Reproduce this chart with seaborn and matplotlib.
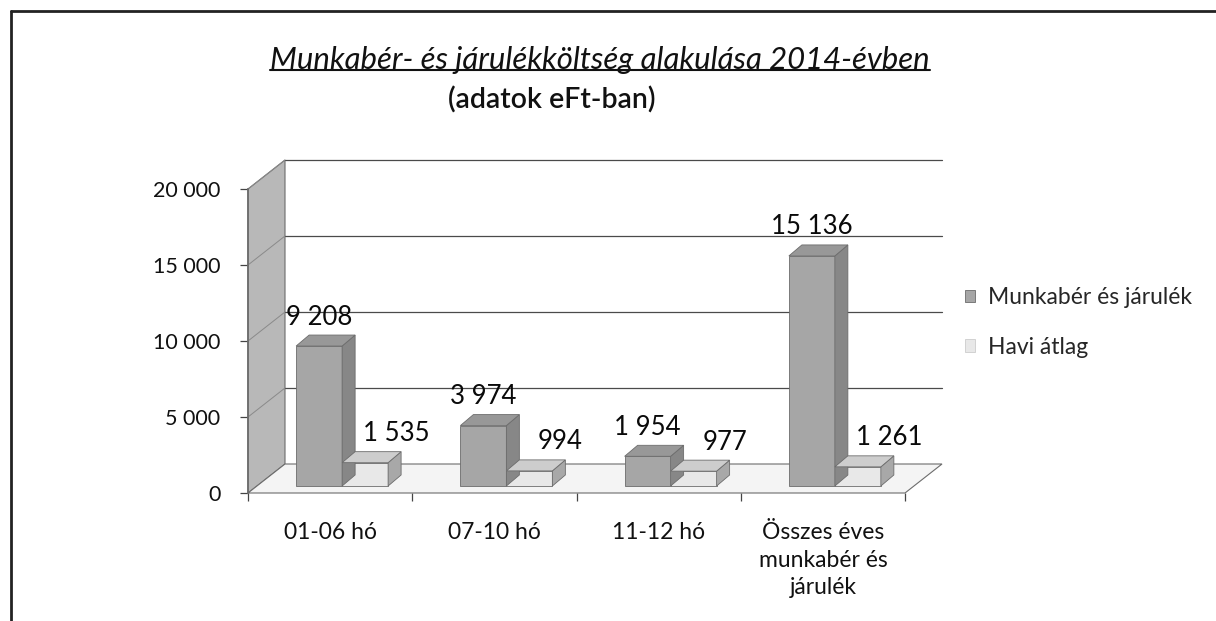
import pandas as pd
import matplotlib
matplotlib.use("Agg")
import matplotlib.pyplot as plt
import matplotlib.transforms as mtransforms
from matplotlib.patches import Polygon, Rectangle
from matplotlib.lines import Line2D
import seaborn as sns

# chart data
categories = ["01-06 hó", "07-10 hó", "11-12 hó", "Összes éves\nmunkabér és\njárulék"]
series_names = ["Munkabér és járulék", "Havi átlag"]
munkaber = [9208, 3974, 1954, 15136]
havi_atlag = [1535, 994, 977, 1261]
y_ticks = [0, 5000, 10000, 15000, 20000]
title = "Munkabér- és járulékköltség alakulása 2014-évben"
subtitle = "(adatok eFt-ban)"

df = pd.DataFrame({
    "Kategória": categories * 2,
    "Sorozat": [series_names[0]] * len(categories) + [series_names[1]] * len(categories),
    "Érték": munkaber + havi_atlag,
})

def fmt(v):
    # hungarian thousands separator is a space
    return f"{v:,}".replace(",", " ")

# colours of the grey 3D bars
dark_front, dark_side, dark_top = "#a6a6a6", "#878787", "#989898"
light_front, light_side, light_top = "#e8e8e8", "#a8a8a8", "#cdcdcd"
edge = "#6c6c6c"

sns.set_theme(style="white")
plt.rcParams["font.family"] = ["Lato", "DejaVu Sans"]

W, H = 1216, 621
fig = plt.figure(figsize=(W / 100, H / 100), dpi=100)
fig.patch.set_facecolor("white")
ax = fig.add_axes([248 / W, 1 - 493 / H, (905 - 248) / W, (493 - 189) / H])
ax.patch.set_visible(False)

sns.barplot(data=df, x="Kategória", y="Érték", hue="Sorozat",
            palette=[dark_front, light_front], width=0.56, saturation=1,
            edgecolor=edge, linewidth=0.6, legend=False, ax=ax, zorder=3)

ax.set_xlim(-0.5, len(categories) - 0.5)
ax.set_ylim(0, 20000)

# bars stand a little back on the 3D floor: lift them a few pixels
lift = mtransforms.ScaledTranslation(0, 7 / 100, fig.dpi_scale_trans)
bar_trans = ax.transData + lift
for bar in ax.patches:
    bar.set_x(bar.get_x() + 0.073)
    bar.set_transform(bar_trans)

# pixel offset of the back plane (3D look)
bdx, bdy = 37, 29
ident = mtransforms.IdentityTransform()

def px(x, y):
    return ax.transData.transform((x, y))

x0, x1 = ax.get_xlim()
# left wall
p0, p1 = px(x0, 0), px(x0, 20000)
wall = [p0, p1, (p1[0] + bdx, p1[1] + bdy), (p0[0] + bdx, p0[1] + bdy)]
ax.add_patch(Polygon(wall, closed=True, transform=ident, clip_on=False,
                     facecolor="#b8b8b8", edgecolor=edge, lw=0.8, zorder=0.5))
# floor
q0, q1 = px(x0, 0), px(x1, 0)
floor = [q0, q1, (q1[0] + bdx, q1[1] + bdy), (q0[0] + bdx, q0[1] + bdy)]
ax.add_patch(Polygon(floor, closed=True, transform=ident, clip_on=False,
                     facecolor="#f4f4f4", edgecolor=edge, lw=0.8, zorder=0.6))
# gridlines on the back wall and on the left wall
for v in y_ticks[1:]:
    a, b = px(x0, v), px(x1, v)
    ax.add_line(Line2D([a[0] + bdx, b[0] + bdx], [a[1] + bdy, b[1] + bdy],
                       transform=ident, color="#4a4a4a", lw=0.9, clip_on=False, zorder=0.7))
    ax.add_line(Line2D([a[0], a[0] + bdx], [a[1], a[1] + bdy],
                       transform=ident, color="#8a8a8a", lw=0.7, clip_on=False, zorder=0.7))

# sides and tops of the bars
for cont, (side_c, top_c) in zip(ax.containers, [(dark_side, dark_top), (light_side, light_top)]):
    for bar in cont:
        bx, bw, bh = bar.get_x(), bar.get_width(), bar.get_height()
        bl = bar_trans.transform((bx, bh))
        br = bar_trans.transform((bx + bw, bh))
        b0 = bar_trans.transform((bx + bw, 0))
        dx, dy = 13, 11
        side = [b0, br, (br[0] + dx, br[1] + dy), (b0[0] + dx, b0[1] + dy)]
        top = [bl, br, (br[0] + dx, br[1] + dy), (bl[0] + dx, bl[1] + dy)]
        ax.add_patch(Polygon(side, transform=ident, facecolor=side_c, edgecolor=edge,
                             lw=0.6, clip_on=False, zorder=3))
        ax.add_patch(Polygon(top, transform=ident, facecolor=top_c, edgecolor=edge,
                             lw=0.6, clip_on=False, zorder=3))

# value labels
for i, cont in enumerate(ax.containers):
    vals = munkaber if i == 0 else havi_atlag
    xoff = 0 if i == 0 else 31
    for bar, v in zip(cont, vals):
        ax.annotate(fmt(v), (bar.get_x() + bar.get_width() / 2, bar.get_height()),
                    xycoords=bar_trans, xytext=(xoff, 29), textcoords="offset pixels",
                    ha="center", va="center", fontsize=18.5, color="#0a0a0a", zorder=5,
                    annotation_clip=False)

# axes, ticks
for s in ["top", "right", "bottom"]:
    ax.spines[s].set_visible(False)
ax.spines["left"].set_color(edge)
ax.set_yticks(y_ticks)
ax.set_yticklabels([fmt(v) for v in y_ticks], fontsize=15.5, color="#111111")
ax.tick_params(axis="y", left=True, length=5.8, width=0.9, color="#444444", pad=14)
ax.set_xticks([i - 0.5 for i in range(len(categories) + 1)])
ax.set_xticklabels([""] * (len(categories) + 1))
ax.set_xticks(range(len(categories)), minor=True)
ax.set_xticklabels(categories, minor=True, fontsize=16.5, linespacing=1.38,
                   va="top", color="#111111")
ax.tick_params(axis="x", which="major", bottom=True, length=6, width=0.9, color="#444444")
ax.tick_params(axis="x", which="minor", bottom=False, length=0, pad=21)
ax.set_xlabel("")
ax.set_ylabel("")

# legend
handles = [Rectangle((0, 0), 1, 1, facecolor=dark_front, edgecolor=edge, lw=0.6),
           Rectangle((0, 0), 1, 1, facecolor=light_front, edgecolor="#cccccc", lw=0.6)]
fig.legend(handles, series_names, loc="upper left", bbox_to_anchor=(965 / W, 1 - 287 / H),
           frameon=False, fontsize=16.5, handlelength=0.45, handleheight=0.45,
           handletextpad=0.55, labelspacing=1.25, borderpad=0, borderaxespad=0)

# title and subtitle
t = fig.text(600 / W, 1 - 60 / H, title, ha="center", va="center", fontsize=22.4,
             style="italic", color="#111111")
fig.text(552 / W, 1 - 100 / H, subtitle, ha="center", va="center", fontsize=20.5,
         weight="semibold", color="#111111")

# frame of the scanned page (only top and left visible)
fig.add_artist(Line2D([11 / W, 11 / W], [0, 1 - 11 / H], transform=fig.transFigure,
                      color="#222222", lw=2))
fig.add_artist(Line2D([11 / W, 1], [1 - 11 / H, 1 - 11 / H], transform=fig.transFigure,
                      color="#222222", lw=2))

# underline the title
fig.canvas.draw()
bb = t.get_window_extent(fig.canvas.get_renderer())
fig.add_artist(Line2D([bb.x0, bb.x1], [bb.y0 + 4, bb.y0 + 4], transform=ident,
                      color="#111111", lw=1.5))

fig.savefig("out.png", dpi=100)
